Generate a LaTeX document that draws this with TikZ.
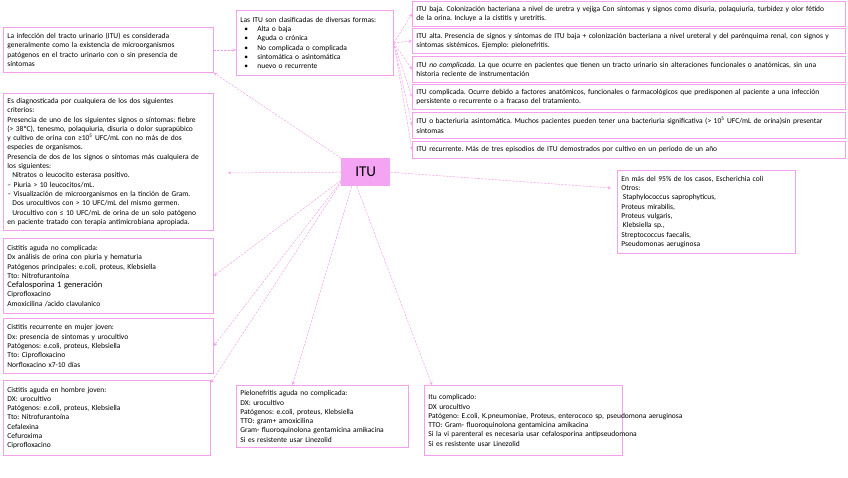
\documentclass[tikz,border=0pt]{standalone}
\usepackage{fontspec}
\setmainfont{Carlito}
\definecolor{itupink}{HTML}{F4A0EE}
\definecolor{itufill}{HTML}{F5A3F3}
\newcommand{\itm}{\hspace*{4pt}\makebox[13pt][l]{\textbullet}}
\frenchspacing

\begin{document}
\begin{tikzpicture}[line cap=round,>=stealth,x=1pt,y=-1pt,
	box/.style={draw=itupink,line width=0.8pt,anchor=north west,align=left,inner xsep=4pt,inner ysep=2pt,font=\fontsize{7.5}{9.3}\selectfont},
	link/.style={->,draw=itupink,line width=0.5pt,dash pattern=on 2pt off 1.5pt}]
	\useasboundingbox (0,0) rectangle (848,477);
	% centro
	\node[fill=itufill,anchor=north west,minimum width=49pt,minimum height=28pt,inner sep=0pt,font=\fontsize{15}{15}\selectfont] (itu) at (341,158) {ITU};
	% definicion y clasificacion
	\node[box,text width=202pt,minimum height=45pt] (intro) at (3,27) {La infección del tracto urinario (ITU) es considerada\\generalmente como la existencia de microorganismos\\patógenos en el tracto urinario con o sin presencia de\\síntomas};
	\node[box,text width=149pt,minimum height=65pt] (clasif) at (236,10) {Las ITU son clasificadas de diversas formas:\\\itm Alta o baja\\\itm Aguda o crónica\\\itm No complicada o complicada\\\itm sintomática o asintomática\\\itm nuevo o recurrente};
	\node[box,text width=425pt,minimum height=25pt] (baja) at (412,1) {ITU baja. Colonización bacteriana a nivel de uretra y vejiga Con síntomas y signos como disuria, polaquiuria, turbidez y olor fétido\\de la orina. Incluye a la cistitis y uretritis.};
	\node[box,text width=425pt,minimum height=25pt] (alta) at (412,28) {ITU alta. Presencia de signos y síntomas de ITU baja + colonización bacteriana a nivel ureteral y del parénquima renal, con signos y\\síntomas sistémicos. Ejemplo: pielonefritis.};
	\node[box,text width=425pt,minimum height=26pt] (nocomp) at (412,56) {ITU \textit{no complicada}. La que ocurre en pacientes que tienen un tracto urinario sin alteraciones funcionales o anatómicas, sin una\\historia reciente de instrumentación};
	\node[box,text width=425pt,minimum height=25pt] (comp) at (412,84) {ITU complicada. Ocurre debido a factores anatómicos, funcionales o farmacológicos que predisponen al paciente a una infección\\persistente o recurrente o a fracaso del tratamiento.};
	\node[box,text width=425pt,minimum height=26pt] (asint) at (412,112) {ITU o bacteriuria asintomática. Muchos pacientes pueden tener una bacteriuria significativa (> 10\textsuperscript{5} UFC/mL de orina)sin presentar\\síntomas};
	\node[box,text width=425pt,minimum height=17pt] (recur) at (412,141) {ITU recurrente. Más de tres episodios de ITU demostrados por cultivo en un periodo de un año};
	% diagnostico y agentes
	\node[box,text width=202pt,minimum height=137pt] (diag) at (3,93) {Es diagnosticada por cualquiera de los dos siguientes\\criterios:\\Presencia de uno de los siguientes signos o síntomas: fiebre\\(> 38ºC), tenesmo, polaquiuria, disuria o dolor suprapúbico\\y cultivo de orina con ≥10\textsuperscript{5} UFC/mL con no más de dos\\especies de organismos.\\Presencia de dos de los signos o síntomas más cualquiera de\\los siguientes:\\\hspace*{5pt}Nitratos o leucocito  esterasa positivo.\\– Piuria > 10 leucocitos/mL.\\– Visualización de microorganismos en la tinción de Gram.\\\hspace*{5pt}Dos urocultivos con > 10 UFC/mL del mismo germen.\\\hspace*{5pt}Urocultivo con ≤ 10 UFC/mL de orina de un solo patógeno\\en paciente tratado con terapia antimicrobiana apropiada.};
	\node[box,text width=170pt,minimum height=83pt] (agentes) at (617,170) {En más del 95\% de los casos, Escherichia coli\\Otros:\\\hspace*{1.5pt}Staphylococcus saprophyticus,\\Proteus mirabilis,\\Proteus vulgaris,\\\hspace*{1.5pt}Klebsiella sp.,\\Streptococcus faecalis,\\Pseudomonas aeruginosa};
	% tratamiento
	\node[box,text width=202pt,minimum height=75pt] (cistitis) at (3,238) {Cistitis aguda no complicada:\\Dx análisis de orina con piuria y hematuria\\Patógenos principales: e.coli, proteus, Klebsiella\\Tto: Nitrofurantoína\\{\fontsize{8.5}{9.3}\selectfont Cefalosporina 1 generación}\\Ciprofloxacino\\Amoxicilina /acido clavulanico};
	\node[box,text width=202pt,minimum height=55pt] (recurmuj) at (3,318) {Cistitis recurrente en mujer joven:\\Dx: presencia de síntomas y urocultivo\\Patógenos: e.coli, proteus, Klebsiella\\Tto: Ciprofloxacino\\Norfloxacino x7-10 días};
	\node[box,text width=199pt,minimum height=75pt] (hombre) at (3,380) {Cistitis aguda en hombre joven:\\DX: urocultivo\\Patógenos: e.coli, proteus, Klebsiella\\Tto: Nitrofurantoína\\Cefalexina\\Cefuroxima\\Ciprofloxacino};
	\node[box,text width=164pt,minimum height=62pt] (pielo) at (236,385) {Pielonefritis aguda no complicada:\\DX: urocultivo\\Patógenos: e.coli, proteus, Klebsiella\\TTO: gram+ amoxicilina\\\mbox{Gram- fluoroquinolona gentamicina amikacina}\\Si es resistente usar Linezolid};
	\node[box,text width=190pt,minimum height=70pt] (complic) at (424,385) {Itu complicado:\\DX urocultivo\\\mbox{Patógeno: E.coli, K.pneumoniae, Proteus, enterococo sp, pseudomona aeruginosa}\\\mbox{TTO: Gram- fluoroquinolona gentamicina amikacina}\\\mbox{Si la vi parenteral es necesaria usar cefalosporina antipseudomona}\\Si es resistente usar Linezolid};
	% conectores
	\draw[link] (intro.east) -- (intro.east -| clasif.west);
	\draw[link] (itu.north west) -- (intro.south east);
	\foreach \t in {baja,alta,nocomp,comp,asint,recur}
		\draw[link] (clasif.east) -- (\t.west);
	\draw[link] (itu.west) -- ([shift={(14pt,-11pt)}]diag.east);
	\draw[link] ([yshift=6pt]itu.south west) -- (cistitis.east);
	\draw[link] ([yshift=5pt]itu.south west) -- (recurmuj.east);
	\draw[link] ([yshift=4pt]itu.south west) -- ([yshift=-3pt]hombre.north east);
	\draw[link] ([xshift=-14pt]itu.south) -- ([xshift=-30pt]pielo.north);
	\draw[link] ([xshift=-9pt]itu.south) -- ([xshift=8pt]complic.north west);
	\draw[link] (itu.east) -- ([shift={(-6pt,-18pt)}]agentes.north west);
\end{tikzpicture}
\end{document}
